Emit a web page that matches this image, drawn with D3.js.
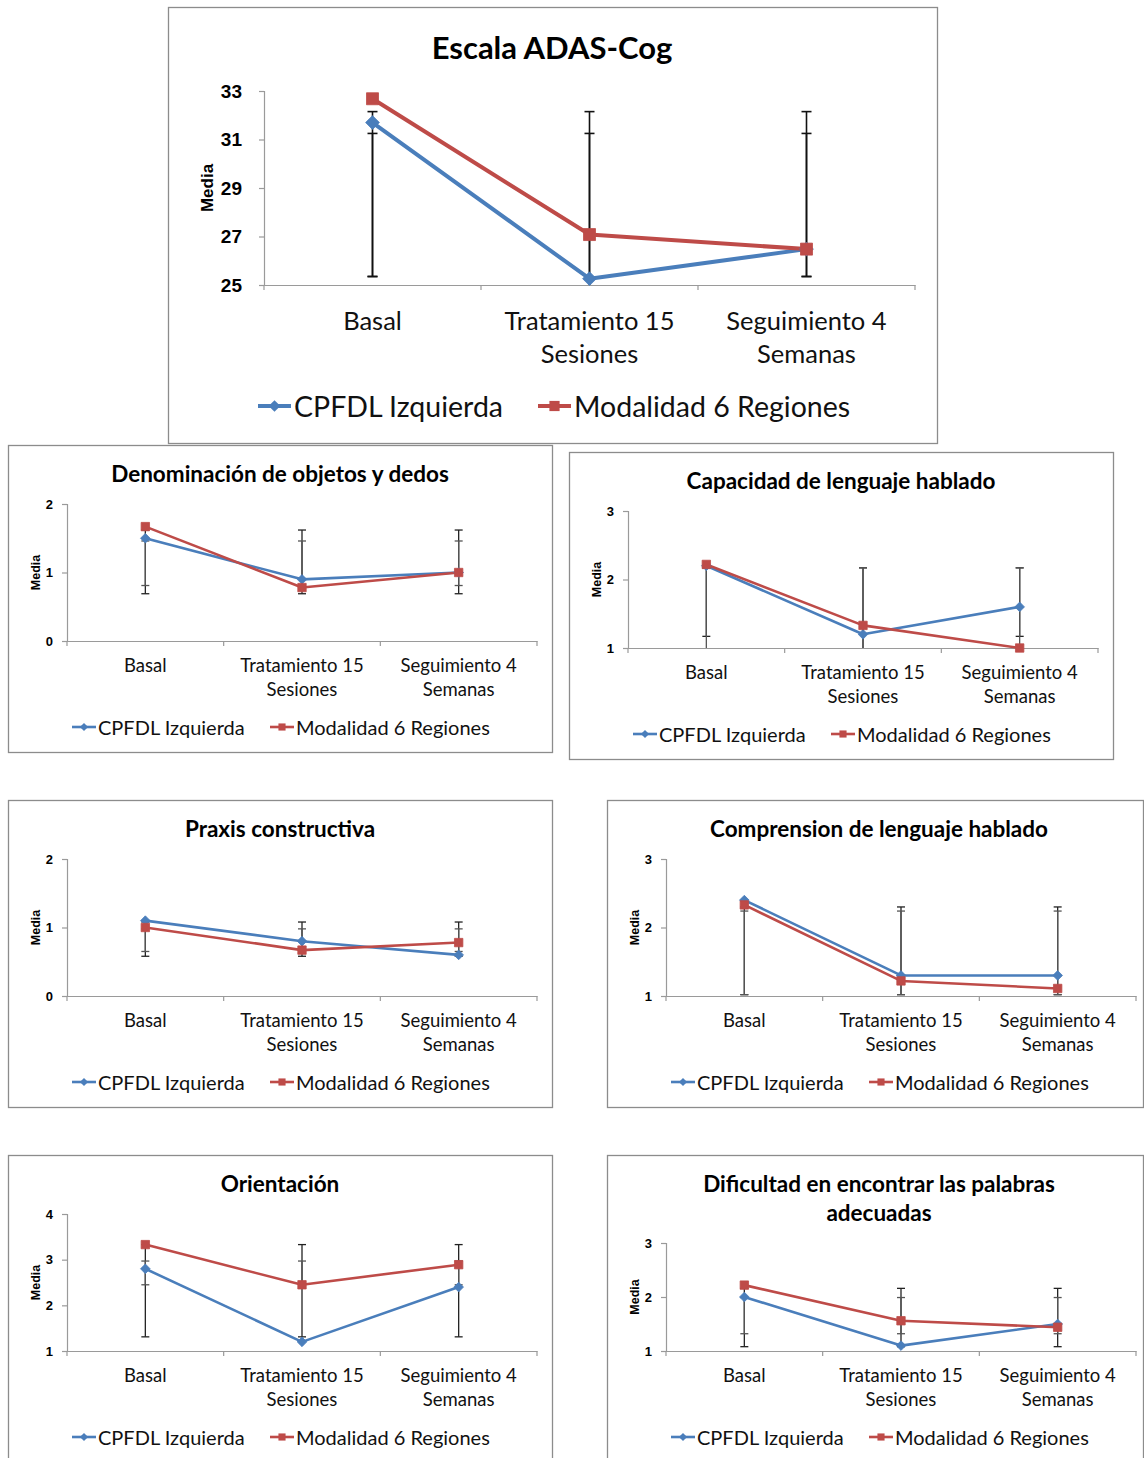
<!DOCTYPE html>
<html>
<head>
<meta charset="utf-8">
<script src="https://cdn.jsdelivr.net/npm/d3@7"></script>
<style>
  html, body { margin: 0; padding: 0; background: #fff; }
  svg { display: block; }
</style>
</head>
<body>
<svg id="chart" width="1144" height="1458"></svg>
<script>
// ---------------- DATA ----------------
const categories = ["Basal", "Tratamiento 15 Sesiones", "Seguimiento 4 Semanas"];
const categoryLines = [["Basal"], ["Tratamiento 15", "Sesiones"], ["Seguimiento 4", "Semanas"]];
const seriesNames = ["CPFDL Izquierda", "Modalidad 6 Regiones"];

// Escala ADAS-Cog
const adasTitle = ["Escala ADAS-Cog"];
const adasTicks = [25, 27, 29, 31, 33];
const adasCpfdl = [31.7, 25.26, 26.48];
const adasModalidad = [32.68, 27.08, 26.48];
const adasCpfdlErrLow = [25.35, 24.0, 25.35];
const adasCpfdlErrHigh = [31.25, 31.25, 31.25];
const adasModalidadErrLow = [25.35, 24.0, 25.35];
const adasModalidadErrHigh = [32.15, 32.15, 32.15];

// Denominación de objetos y dedos
const denomTitle = ["Denominación de objetos y dedos"];
const denomTicks = [0, 1, 2];
const denomCpfdl = [1.5, 0.9, 1.0];
const denomModalidad = [1.67, 0.78, 1.0];
const denomCpfdlErrLow = [0.69, 0.69, 0.69];
const denomCpfdlErrHigh = [1.62, 1.62, 1.62];
const denomModalidadErrLow = [0.81, 0.81, 0.81];
const denomModalidadErrHigh = [1.46, 1.46, 1.46];

// Capacidad de lenguaje hablado
const capacTitle = ["Capacidad de lenguaje hablado"];
const capacTicks = [1, 2, 3];
const capacCpfdl = [2.2, 1.2, 1.6];
const capacModalidad = [2.22, 1.33, 1.0];
const capacCpfdlErrLow = [1.17, 0.6, 1.17];
const capacCpfdlErrHigh = [2.17, 2.17, 2.17];
const capacModalidadErrLow = [0.6, 0.6, 0.6];
const capacModalidadErrHigh = [2.17, 2.17, 2.17];

// Praxis constructiva
const praxisTitle = ["Praxis constructiva"];
const praxisTicks = [0, 1, 2];
const praxisCpfdl = [1.1, 0.8, 0.6];
const praxisModalidad = [1.0, 0.67, 0.78];
const praxisCpfdlErrLow = [0.58, 0.58, 0.58];
const praxisCpfdlErrHigh = [1.08, 1.08, 1.08];
const praxisModalidadErrLow = [0.65, 0.65, 0.65];
const praxisModalidadErrHigh = [0.98, 0.98, 0.98];

// Comprension de lenguaje hablado
const comprTitle = ["Comprension de lenguaje hablado"];
const comprTicks = [1, 2, 3];
const comprCpfdl = [2.4, 1.3, 1.3];
const comprModalidad = [2.33, 1.22, 1.11];
const comprCpfdlErrLow = [1.02, 1.02, 1.02];
const comprCpfdlErrHigh = [2.3, 2.3, 2.3];
const comprModalidadErrLow = [1.02, 1.02, 1.02];
const comprModalidadErrHigh = [2.24, 2.24, 2.24];

// Orientación
const orientTitle = ["Orientación"];
const orientTicks = [1, 2, 3, 4];
const orientCpfdl = [2.8, 1.2, 2.4];
const orientModalidad = [3.33, 2.45, 2.89];
const orientCpfdlErrLow = [1.31, 1.31, 1.31];
const orientCpfdlErrHigh = [3.33, 3.33, 3.33];
const orientModalidadErrLow = [2.45, 2.45, 2.45];
const orientModalidadErrHigh = [2.97, 2.97, 2.97];

// Dificultad en encontrar las palabras adecuadas
const dificTitle = ["Dificultad en encontrar las palabras", "adecuadas"];
const dificTicks = [1, 2, 3];
const dificCpfdl = [2.0, 1.1, 1.5];
const dificModalidad = [2.22, 1.56, 1.44];
const dificCpfdlErrLow = [1.08, 1.08, 1.08];
const dificCpfdlErrHigh = [2.16, 2.16, 2.16];
const dificModalidadErrLow = [1.32, 1.32, 1.32];
const dificModalidadErrHigh = [1.99, 1.99, 1.99];

// ---------------- STYLE / LAYOUT ----------------
const BLUE = "#4a7ebb";
const RED = "#be4b48";
const TEXT_FONT = "Lato, 'Open Sans', sans-serif";
const TICK_FONT = "'Liberation Sans Narrow', 'Arial Narrow', 'Liberation Sans', Arial, sans-serif";
const LABEL_FONT = "'Liberation Sans', Arial, sans-serif";

const svg = d3.select("#chart");

function smallLayout(bx, by, bw, title, ticks, cp, mo, cpLo, cpHi, moLo, moHi, twoLineTitle) {
  return {
    box: { x: bx, y: by, w: bw, h: 307 },
    title, titleY: [by + 28, by + 57], titleX: bx + 272, titleSize: 22.5,
    left: bx + 59, right: bx + 529, top: twoLineTitle ? by + 88 : by + 59, bottom: by + 196,
    ticks, tickSize: 13, tickFont: LABEL_FONT, tickGap: 9,
    mediaX: bx + 28, mediaSize: 12.5,
    labelY: [by + 220, by + 244], labelSize: 18.5,
    legendY: by + 282, legendX: [bx + 64, bx + 262], legendLine: 24, legendSize: 20, legendGap: 2,
    lineW: 2.6, markerR: 4.2, capW: 8, errW: 1.3,
    series: [
      { name: seriesNames[0], color: BLUE, shape: "diamond", values: cp, lo: cpLo, hi: cpHi, errColor: "#222" },
      { name: seriesNames[1], color: RED, shape: "square", values: mo, lo: moLo, hi: moHi, errColor: "#555" }
    ]
  };
}

const panels = [
  {
    box: { x: 168, y: 7, w: 769, h: 436 },
    title: adasTitle, titleY: [47], titleX: 552, titleSize: 31,
    left: 264, right: 915, top: 91, bottom: 285,
    ticks: adasTicks, tickSize: 19, tickFont: TICK_FONT, tickGap: 17,
    mediaX: 207, mediaSize: 17,
    labelY: [320, 353], labelSize: 25.5,
    legendY: 406, legendX: [258, 538], legendLine: 33, legendSize: 28.5, legendGap: 3,
    lineW: 4, markerR: 6, capW: 10, errW: 1.6,
    series: [
      { name: seriesNames[0], color: BLUE, shape: "diamond", values: adasCpfdl, lo: adasCpfdlErrLow, hi: adasCpfdlErrHigh, errColor: "#111" },
      { name: seriesNames[1], color: RED, shape: "square", values: adasModalidad, lo: adasModalidadErrLow, hi: adasModalidadErrHigh, errColor: "#111" }
    ]
  },
  smallLayout(8, 445, 544, denomTitle, denomTicks, denomCpfdl, denomModalidad, denomCpfdlErrLow, denomCpfdlErrHigh, denomModalidadErrLow, denomModalidadErrHigh),
  smallLayout(569, 452, 544, capacTitle, capacTicks, capacCpfdl, capacModalidad, capacCpfdlErrLow, capacCpfdlErrHigh, capacModalidadErrLow, capacModalidadErrHigh),
  smallLayout(8, 800, 544, praxisTitle, praxisTicks, praxisCpfdl, praxisModalidad, praxisCpfdlErrLow, praxisCpfdlErrHigh, praxisModalidadErrLow, praxisModalidadErrHigh),
  smallLayout(607, 800, 536, comprTitle, comprTicks, comprCpfdl, comprModalidad, comprCpfdlErrLow, comprCpfdlErrHigh, comprModalidadErrLow, comprModalidadErrHigh),
  smallLayout(8, 1155, 544, orientTitle, orientTicks, orientCpfdl, orientModalidad, orientCpfdlErrLow, orientCpfdlErrHigh, orientModalidadErrLow, orientModalidadErrHigh),
  smallLayout(607, 1155, 536, dificTitle, dificTicks, dificCpfdl, dificModalidad, dificCpfdlErrLow, dificCpfdlErrHigh, dificModalidadErrLow, dificModalidadErrHigh, true)
];

function markerPath(shape, r) {
  if (shape === "diamond") {
    const d = r * 1.15;
    return `M0,${-d}L${d},0L0,${d}L${-d},0Z`;
  }
  return `M${-r},${-r}H${r}V${r}H${-r}Z`;
}

function drawPanel(p) {
  const g = svg.append("g");
  // frame
  g.append("rect")
    .attr("x", p.box.x + 0.5).attr("y", p.box.y + 0.5)
    .attr("width", p.box.w).attr("height", p.box.h)
    .attr("fill", "#fff").attr("stroke", "#8c8c8c").attr("stroke-width", 1.3);

  // title
  p.title.forEach((t, i) => {
    g.append("text")
      .attr("x", p.titleX).attr("y", p.titleY[i])
      .attr("text-anchor", "middle").attr("dominant-baseline", "central")
      .attr("font-family", TEXT_FONT).attr("font-weight", 700)
      .attr("font-size", p.titleSize).attr("fill", "#000")
      .text(t);
  });

  const x = d3.scaleBand().domain(categories).range([p.left, p.right]).padding(0);
  const cx = c => x(c) + x.bandwidth() / 2;
  const yDomain = d3.extent(p.ticks);
  const y = d3.scaleLinear().domain(yDomain).range([p.bottom, p.top]);

  // y axis
  const yAxis = g.append("g").attr("transform", `translate(${p.left},0)`)
    .call(d3.axisLeft(y).tickValues(p.ticks).tickSize(5).tickPadding(p.tickGap).tickFormat(d3.format("d")));
  yAxis.select(".domain").attr("stroke", "#9a9a9a").attr("stroke-width", 1.2);
  yAxis.selectAll(".tick line").attr("stroke", "#9a9a9a").attr("stroke-width", 1.2);
  yAxis.selectAll(".tick text")
    .attr("font-family", p.tickFont).attr("font-weight", 700)
    .attr("font-size", p.tickSize).attr("fill", "#000");

  // x axis line + boundary ticks
  const xAxis = g.append("g").attr("transform", `translate(0,${p.bottom})`)
    .call(d3.axisBottom(x).tickSize(0).tickFormat(""));
  xAxis.select(".domain").attr("stroke", "#9a9a9a").attr("stroke-width", 1.2);
  xAxis.selectAll(".tick").remove();
  const bounds = categories.map(c => x(c)).concat([x.range()[1]]);
  g.selectAll(null).data(bounds).enter().append("line")
    .attr("x1", d => d).attr("x2", d => d)
    .attr("y1", p.bottom).attr("y2", p.bottom + 5)
    .attr("stroke", "#9a9a9a").attr("stroke-width", 1.2);

  // category labels
  categories.forEach((c, i) => {
    categoryLines[i].forEach((line, j) => {
      g.append("text")
        .attr("x", cx(c)).attr("y", p.labelY[j])
        .attr("text-anchor", "middle").attr("dominant-baseline", "central")
        .attr("font-family", TEXT_FONT).attr("font-size", p.labelSize).attr("fill", "#111")
        .text(line);
    });
  });

  // y title
  g.append("text")
    .attr("transform", `translate(${p.mediaX},${(p.top + p.bottom) / 2}) rotate(-90)`)
    .attr("text-anchor", "middle").attr("dominant-baseline", "central")
    .attr("font-family", LABEL_FONT).attr("font-weight", 700)
    .attr("font-size", p.mediaSize).attr("fill", "#000")
    .text("Media");

  // error bars
  const [ymin, ymax] = yDomain;
  p.series.forEach(s => {
    categories.forEach((c, i) => {
      const lo = s.lo[i], hi = s.hi[i];
      const loC = Math.max(lo, ymin), hiC = Math.min(hi, ymax);
      const xx = cx(c);
      g.append("line")
        .attr("x1", xx).attr("x2", xx)
        .attr("y1", y(loC)).attr("y2", y(hiC))
        .attr("stroke", s.errColor).attr("stroke-width", p.errW);
      [[lo, loC], [hi, hiC]].forEach(([v, vc]) => {
        if (v === vc) {
          g.append("line")
            .attr("x1", xx - p.capW / 2).attr("x2", xx + p.capW / 2)
            .attr("y1", y(v)).attr("y2", y(v))
            .attr("stroke", s.errColor).attr("stroke-width", p.errW);
        }
      });
    });
  });

  // lines
  const lineGen = d3.line().x((d, i) => cx(categories[i])).y(d => y(d));
  p.series.forEach(s => {
    g.append("path")
      .attr("d", lineGen(s.values))
      .attr("fill", "none").attr("stroke", s.color)
      .attr("stroke-width", p.lineW).attr("stroke-linejoin", "round");
  });

  // markers
  p.series.forEach(s => {
    g.selectAll(null).data(s.values).enter().append("path")
      .attr("d", markerPath(s.shape, p.markerR))
      .attr("transform", (d, i) => `translate(${cx(categories[i])},${y(d)})`)
      .attr("fill", s.color).attr("stroke", s.color).attr("stroke-width", 0.8);
  });

  // legend
  p.series.forEach((s, i) => {
    const lx = p.legendX[i];
    g.append("line")
      .attr("x1", lx).attr("x2", lx + p.legendLine)
      .attr("y1", p.legendY).attr("y2", p.legendY)
      .attr("stroke", s.color).attr("stroke-width", p.lineW);
    g.append("path")
      .attr("d", markerPath(s.shape, p.markerR * 0.85))
      .attr("transform", `translate(${lx + p.legendLine / 2},${p.legendY})`)
      .attr("fill", s.color);
    g.append("text")
      .attr("x", lx + p.legendLine + p.legendGap).attr("y", p.legendY)
      .attr("dominant-baseline", "central")
      .attr("font-family", TEXT_FONT).attr("font-size", p.legendSize).attr("fill", "#111")
      .text(s.name);
  });
}

panels.forEach(drawPanel);
</script>
</body>
</html>
